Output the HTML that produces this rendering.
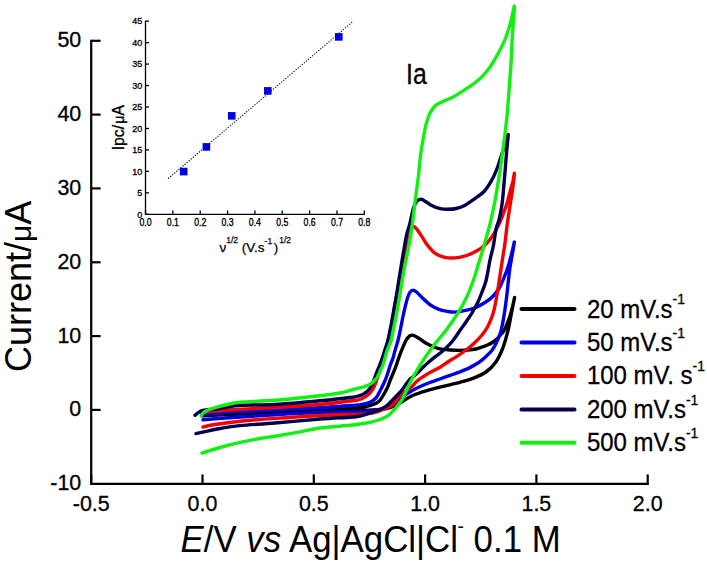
<!DOCTYPE html>
<html><head><meta charset="utf-8"><style>
html,body{margin:0;padding:0;background:#fff;width:707px;height:564px;overflow:hidden}
svg{display:block;font-family:"Liberation Sans",sans-serif}
</style></head><body>
<svg width="707" height="564" viewBox="0 0 707 564">
<g stroke="#000" stroke-width="2.2" fill="none" stroke-linecap="butt">
<path d="M91.2,39.7 V483.8 H648.8"/>
<path d="M91.2,40.8 H100.6"/>
<path d="M91.2,114.6 H100.6"/>
<path d="M91.2,188.4 H100.6"/>
<path d="M91.2,262.3 H100.6"/>
<path d="M91.2,336.1 H100.6"/>
<path d="M91.2,409.9 H100.6"/>
<path d="M91.2,483.8 V474.4"/>
<path d="M202.5,483.8 V474.4"/>
<path d="M313.8,483.8 V474.4"/>
<path d="M425.1,483.8 V474.4"/>
<path d="M536.4,483.8 V474.4"/>
<path d="M647.7,483.8 V474.4"/>
</g>
<g font-family="Liberation Sans" font-size="21" fill="#000" text-anchor="end" stroke="#000" stroke-width="0.3">
<text transform="translate(81.2,47.2) scale(1.02,1.08)">50</text>
<text transform="translate(81.2,121.0) scale(1.02,1.08)">40</text>
<text transform="translate(81.2,194.8) scale(1.02,1.08)">30</text>
<text transform="translate(81.2,268.7) scale(1.02,1.08)">20</text>
<text transform="translate(81.2,342.5) scale(1.02,1.08)">10</text>
<text transform="translate(81.2,416.3) scale(1.02,1.08)">0</text>
<text transform="translate(81.2,490.1) scale(1.02,1.08)">-10</text>
</g>
<g font-family="Liberation Sans" font-size="21" fill="#000" text-anchor="middle" stroke="#000" stroke-width="0.3">
<text transform="translate(91.2,510.6) scale(1.02,1.08)">-0.5</text>
<text transform="translate(202.5,510.6) scale(1.02,1.08)">0.0</text>
<text transform="translate(313.8,510.6) scale(1.02,1.08)">0.5</text>
<text transform="translate(425.1,510.6) scale(1.02,1.08)">1.0</text>
<text transform="translate(536.4,510.6) scale(1.02,1.08)">1.5</text>
<text transform="translate(647.7,510.6) scale(1.02,1.08)">2.0</text>
</g>
<path d="M202.0,413.5 C208.3,413.2 227.0,412.4 240.0,412.0 C253.0,411.6 266.7,411.3 280.0,411.0 C293.3,410.7 308.3,410.6 320.0,410.2 C331.7,409.8 343.3,408.8 350.0,408.4 C356.7,407.9 356.7,408.0 360.0,407.5 C363.3,407.0 367.3,406.2 370.0,405.5 C372.7,404.8 374.3,404.2 376.0,403.3 C377.7,402.4 378.7,401.9 380.0,400.3 C381.3,398.8 382.8,396.1 384.0,394.0 C385.2,391.9 386.4,389.8 387.5,387.5 C388.6,385.2 389.0,383.2 390.3,380.0 C391.6,376.8 393.7,372.1 395.2,368.2 C396.7,364.3 397.9,360.0 399.2,356.6 C400.4,353.2 401.5,350.5 402.7,347.7 C403.9,344.9 405.1,341.8 406.3,339.8 C407.5,337.8 408.8,336.6 409.8,335.8 C410.8,335.0 411.6,335.1 412.5,335.1 C413.4,335.2 413.8,335.5 415.0,336.1 C416.2,336.8 418.0,337.7 420.0,339.0 C422.0,340.3 424.0,342.2 427.0,343.8 C430.0,345.4 434.0,347.4 437.8,348.4 C441.6,349.4 445.6,349.7 450.0,350.0 C454.4,350.3 459.7,350.5 464.0,350.3 C468.3,350.1 473.0,349.6 476.0,349.0 C479.0,348.4 480.0,347.7 482.0,347.0 C484.0,346.3 486.2,345.6 488.0,344.8 C489.8,344.0 491.5,343.0 493.0,342.0 C494.5,341.0 495.8,340.1 497.0,339.0 C498.2,337.9 498.8,336.9 500.0,335.5 C501.2,334.1 502.8,332.4 504.0,330.5 C505.2,328.6 506.0,326.4 507.0,324.0 C508.0,321.6 509.1,318.8 510.0,316.0 C510.9,313.2 511.7,310.1 512.5,307.0 C513.3,303.9 514.8,296.5 514.6,297.5 C514.4,298.5 512.6,307.4 511.5,313.0 C510.4,318.6 509.4,324.9 507.9,330.8 C506.4,336.7 504.7,343.3 502.6,348.6 C500.5,353.9 498.2,358.7 495.5,362.5 C492.8,366.3 490.2,368.9 486.6,371.5 C483.1,374.1 478.6,376.1 474.2,377.9 C469.8,379.7 463.9,381.2 460.0,382.3 C456.1,383.4 454.0,383.8 450.7,384.6 C447.4,385.4 444.0,386.2 440.0,387.2 C436.0,388.2 430.5,389.6 426.8,390.7 C423.1,391.8 420.5,392.6 418.0,393.5 C415.5,394.4 414.2,394.7 412.0,395.8 C409.8,396.9 407.0,398.6 404.7,400.0 C402.4,401.4 400.4,402.8 398.0,404.0 C395.6,405.2 393.0,406.6 390.0,407.5 C387.0,408.4 384.2,409.0 380.0,409.5 C375.8,410.0 370.0,410.1 365.0,410.3 C360.0,410.5 357.5,410.4 350.0,410.5 C342.5,410.6 331.7,410.7 320.0,411.0 C308.3,411.3 293.3,412.0 280.0,412.5 C266.7,413.0 253.0,413.4 240.0,414.0 C227.0,414.6 208.3,415.5 202.0,415.8" fill="none" stroke="#000000" stroke-width="3.4" stroke-linejoin="round" stroke-linecap="round"/>
<path d="M202.0,414.5 C205.0,414.2 213.7,413.5 220.0,413.0 C226.3,412.5 230.8,412.1 240.0,411.6 C249.2,411.1 261.7,410.6 275.0,410.0 C288.3,409.4 307.5,408.4 320.0,407.7 C332.5,406.9 343.3,406.0 350.0,405.5 C356.7,405.0 356.7,405.2 360.0,404.7 C363.3,404.1 367.3,403.3 370.0,402.2 C372.7,401.1 374.3,399.9 376.0,398.0 C377.7,396.1 378.8,393.3 380.0,391.0 C381.2,388.7 382.3,386.6 383.5,384.0 C384.7,381.4 385.9,378.7 387.0,375.5 C388.1,372.3 389.3,367.9 390.3,365.0 C391.3,362.1 392.2,360.4 393.0,358.0 C393.8,355.6 394.1,353.5 395.0,350.5 C395.9,347.5 397.1,343.8 398.1,340.0 C399.1,336.2 399.9,331.8 400.8,327.5 C401.7,323.2 402.6,318.0 403.5,314.0 C404.4,310.0 405.2,306.4 406.0,303.5 C406.8,300.6 407.3,298.4 408.0,296.5 C408.7,294.6 409.2,293.4 410.0,292.3 C410.8,291.2 411.8,290.2 412.9,290.2 C414.0,290.1 415.0,290.8 416.5,292.0 C418.0,293.2 419.8,295.3 422.0,297.4 C424.2,299.5 427.1,302.6 429.9,304.6 C432.7,306.6 436.0,308.2 438.9,309.3 C441.8,310.4 444.3,310.8 447.0,311.3 C449.7,311.8 452.5,312.2 455.0,312.1 C457.5,312.1 458.9,311.6 462.0,311.0 C465.1,310.4 470.0,309.8 473.8,308.4 C477.6,307.0 481.9,304.4 485.0,302.5 C488.1,300.6 489.9,299.3 492.2,297.0 C494.5,294.7 497.1,291.6 499.0,288.5 C500.9,285.4 502.2,282.0 503.7,278.4 C505.2,274.8 506.6,271.2 508.0,267.0 C509.4,262.8 510.7,257.2 511.8,253.0 C512.9,248.8 514.3,241.7 514.4,242.0 C514.5,242.3 512.9,251.0 512.2,255.0 C511.5,259.0 510.8,262.2 510.2,266.0 C509.6,269.8 509.2,273.8 508.7,278.0 C508.2,282.2 507.8,286.5 507.3,291.0 C506.8,295.5 506.2,300.5 505.6,305.0 C505.0,309.5 504.4,313.5 503.6,318.0 C502.8,322.5 501.9,327.9 500.7,332.0 C499.5,336.1 497.9,339.5 496.5,342.5 C495.1,345.5 493.8,347.9 492.0,350.2 C490.2,352.5 487.8,354.8 486.0,356.5 C484.2,358.2 483.1,359.2 481.3,360.6 C479.5,362.0 477.1,363.6 475.0,364.8 C472.9,366.1 471.4,366.9 468.9,368.1 C466.4,369.3 463.1,370.6 460.0,371.8 C456.9,373.0 453.3,374.1 450.0,375.3 C446.7,376.5 443.3,377.8 440.0,379.0 C436.7,380.2 432.8,381.5 430.0,382.5 C427.2,383.5 425.3,384.2 423.0,385.2 C420.7,386.2 418.1,387.4 416.0,388.5 C413.9,389.6 412.0,390.7 410.2,391.8 C408.4,392.9 406.5,394.0 405.0,395.0 C403.5,396.0 402.7,396.8 401.0,398.0 C399.3,399.2 397.0,401.2 395.0,402.5 C393.0,403.8 391.2,404.9 389.0,406.0 C386.8,407.1 385.2,408.2 382.0,409.0 C378.8,409.8 373.7,410.5 370.0,411.0 C366.3,411.5 363.3,411.9 360.0,412.0 C356.7,412.1 356.7,411.7 350.0,411.8 C343.3,411.9 332.5,411.9 320.0,412.4 C307.5,412.9 288.3,414.0 275.0,414.8 C261.7,415.6 250.0,416.3 240.0,417.0 C230.0,417.7 221.2,418.3 215.0,418.8 C208.8,419.3 205.0,419.6 203.0,419.8" fill="none" stroke="#0000e0" stroke-width="3.4" stroke-linejoin="round" stroke-linecap="round"/>
<path d="M202.5,413.0 C203.8,412.8 207.1,412.0 210.0,411.6 C212.9,411.2 215.0,411.2 220.0,410.8 C225.0,410.4 230.8,409.9 240.0,409.3 C249.2,408.8 261.7,408.3 275.0,407.5 C288.3,406.7 307.5,405.6 320.0,404.5 C332.5,403.4 343.3,401.8 350.0,401.0 C356.7,400.2 357.0,400.5 360.0,399.5 C363.0,398.5 365.8,396.8 368.0,395.0 C370.2,393.2 371.7,391.2 373.0,389.0 C374.3,386.8 375.0,384.7 376.0,382.0 C377.0,379.3 377.8,376.7 379.0,373.0 C380.2,369.3 381.7,364.7 383.0,360.0 C384.3,355.3 385.7,350.3 387.0,345.0 C388.3,339.7 389.7,334.7 391.0,328.0 C392.3,321.3 393.7,312.5 395.0,305.0 C396.3,297.5 397.7,290.2 399.0,283.0 C400.3,275.8 401.7,268.5 403.0,262.0 C404.3,255.5 405.8,249.0 407.0,244.0 C408.2,239.0 409.4,234.9 410.5,232.0 C411.6,229.1 412.4,227.0 413.4,226.5 C414.4,226.0 415.2,227.3 416.5,228.8 C417.8,230.3 419.6,233.0 421.3,235.6 C423.1,238.2 424.7,241.7 427.0,244.6 C429.3,247.5 432.1,251.0 434.9,253.1 C437.7,255.2 440.5,256.3 443.9,257.1 C447.3,257.9 451.4,258.2 455.2,257.9 C459.0,257.6 462.8,256.8 466.6,255.5 C470.4,254.2 474.8,252.1 477.9,250.3 C481.0,248.6 483.0,246.8 485.0,245.0 C487.0,243.2 488.4,241.7 490.0,239.5 C491.6,237.3 493.2,234.9 494.9,232.0 C496.6,229.1 498.5,225.3 500.0,222.0 C501.5,218.7 502.8,215.3 504.0,212.0 C505.2,208.7 506.2,206.0 507.3,202.3 C508.4,198.6 509.6,193.6 510.5,190.0 C511.4,186.4 512.4,183.8 513.0,181.0 C513.6,178.2 514.5,172.0 514.4,173.5 C514.3,175.0 513.3,184.4 512.5,190.0 C511.7,195.6 510.7,201.2 509.8,207.2 C508.9,213.2 507.8,219.8 507.0,226.0 C506.2,232.2 505.6,238.9 504.8,244.4 C504.1,249.9 503.3,254.0 502.5,259.0 C501.7,264.0 501.0,269.0 500.2,274.2 C499.4,279.4 498.6,285.2 497.8,290.0 C497.0,294.8 496.3,298.9 495.5,303.0 C494.7,307.1 494.1,310.5 492.8,314.5 C491.5,318.5 489.3,323.6 487.5,327.0 C485.7,330.4 483.9,332.6 482.0,335.0 C480.1,337.4 478.3,339.2 476.0,341.5 C473.7,343.8 471.2,346.0 468.0,348.5 C464.8,351.0 460.2,354.2 457.0,356.3 C453.8,358.4 451.8,359.4 449.0,361.2 C446.2,363.0 442.8,365.6 440.0,367.3 C437.2,369.0 434.5,370.1 432.0,371.5 C429.5,372.9 427.5,373.9 425.0,375.5 C422.5,377.1 419.1,379.2 417.0,381.0 C414.9,382.8 413.9,384.8 412.3,386.3 C410.7,387.8 409.1,388.7 407.5,389.8 C405.9,390.9 404.2,391.6 402.8,392.8 C401.4,394.1 400.1,395.8 398.8,397.3 C397.5,398.8 396.1,400.6 395.0,402.0 C393.9,403.4 393.6,404.4 391.9,405.5 C390.2,406.6 387.8,407.4 385.0,408.5 C382.2,409.6 379.2,411.3 375.0,412.3 C370.8,413.3 364.2,414.0 360.0,414.3 C355.8,414.6 356.7,414.2 350.0,414.4 C343.3,414.6 332.5,414.8 320.0,415.5 C307.5,416.2 288.3,417.4 275.0,418.4 C261.7,419.3 250.0,420.2 240.0,421.2 C230.0,422.2 221.2,423.5 215.0,424.5 C208.8,425.5 205.0,426.6 203.0,427.0" fill="none" stroke="#f40000" stroke-width="3.4" stroke-linejoin="round" stroke-linecap="round"/>
<path d="M195.0,415.3 C195.5,414.9 196.8,413.6 198.0,412.8 C199.2,412.0 200.5,411.1 202.0,410.6 C203.5,410.1 204.8,409.9 207.0,409.7 C209.2,409.4 212.0,409.5 215.0,409.1 C218.0,408.7 220.8,408.1 225.0,407.5 C229.2,406.9 231.7,405.7 240.0,405.2 C248.3,404.7 261.7,405.2 275.0,404.5 C288.3,403.8 307.5,402.0 320.0,400.8 C332.5,399.6 343.3,398.4 350.0,397.5 C356.7,396.6 357.5,396.2 360.0,395.5 C362.5,394.8 363.6,393.9 365.0,393.0 C366.4,392.1 367.6,391.2 368.6,390.0 C369.7,388.8 370.5,387.4 371.3,386.0 C372.1,384.6 372.8,383.0 373.4,381.5 C374.0,380.0 374.3,378.9 375.0,377.0 C375.7,375.1 376.9,372.0 377.7,370.0 C378.5,368.0 379.0,367.0 379.8,365.0 C380.6,363.0 381.4,360.6 382.3,358.0 C383.2,355.4 384.1,352.5 385.0,349.5 C385.9,346.5 387.0,344.1 388.0,340.0 C389.0,335.9 390.1,330.0 391.1,325.0 C392.1,320.0 392.8,315.5 393.8,310.0 C394.8,304.5 395.9,298.7 397.0,292.0 C398.1,285.3 399.3,277.3 400.5,270.0 C401.7,262.7 403.1,254.0 404.2,248.0 C405.2,242.0 405.9,238.0 406.8,234.0 C407.7,230.0 408.7,228.2 409.8,223.9 C410.9,219.6 412.2,212.1 413.4,208.3 C414.6,204.5 415.6,202.7 416.9,201.2 C418.2,199.7 419.7,199.1 421.2,199.2 C422.7,199.3 424.4,200.9 426.0,201.8 C427.6,202.8 428.5,203.8 430.7,204.9 C432.9,206.0 436.4,207.7 439.2,208.4 C442.0,209.1 444.9,209.3 447.7,209.3 C450.5,209.3 453.4,209.2 456.2,208.5 C459.0,207.8 461.9,206.8 464.7,205.4 C467.5,204.0 470.0,202.1 473.2,199.8 C476.4,197.5 481.0,194.6 484.0,191.5 C487.0,188.4 489.2,184.6 491.3,181.0 C493.4,177.4 495.0,173.8 496.5,170.0 C498.0,166.2 499.2,162.1 500.5,158.3 C501.8,154.6 503.0,150.6 504.0,147.5 C505.0,144.4 505.7,142.1 506.4,140.0 C507.1,137.9 508.2,132.8 508.2,134.8 C508.2,136.8 507.1,145.8 506.6,152.0 C506.1,158.2 505.6,165.3 505.0,172.0 C504.4,178.7 503.8,186.5 503.3,192.0 C502.8,197.5 502.6,200.3 501.9,205.0 C501.2,209.7 499.9,216.1 499.0,220.0 C498.1,223.9 497.1,224.2 496.2,228.4 C495.3,232.6 494.5,239.7 493.5,245.0 C492.5,250.3 491.2,254.2 490.0,260.0 C488.8,265.8 487.5,274.7 486.2,280.0 C484.9,285.3 483.4,288.2 482.0,292.0 C480.6,295.8 479.2,299.5 477.5,303.0 C475.8,306.5 473.9,309.8 472.0,313.0 C470.1,316.2 467.8,319.3 466.0,322.0 C464.2,324.7 463.2,325.9 461.0,329.0 C458.8,332.1 455.5,337.3 453.0,340.5 C450.5,343.7 448.2,345.9 446.0,348.0 C443.8,350.1 441.8,351.7 440.0,353.2 C438.2,354.7 436.9,355.3 435.0,356.8 C433.1,358.3 430.8,360.2 428.8,362.0 C426.8,363.8 424.6,365.8 423.0,367.3 C421.4,368.8 420.7,369.8 419.5,371.0 C418.3,372.2 417.1,373.3 416.0,374.3 C414.9,375.3 414.2,375.8 413.0,376.8 C411.8,377.8 410.1,379.1 408.8,380.5 C407.6,381.9 406.6,383.5 405.5,385.0 C404.4,386.5 403.4,388.1 402.3,389.5 C401.2,390.9 400.0,392.2 398.8,393.5 C397.6,394.8 396.5,396.0 395.0,397.5 C393.5,399.0 391.4,401.1 390.0,402.5 C388.6,403.9 388.6,404.5 386.9,405.7 C385.2,406.9 382.8,408.3 380.0,409.5 C377.2,410.7 373.3,411.9 370.0,413.0 C366.7,414.1 363.3,415.3 360.0,416.0 C356.7,416.7 356.7,416.7 350.0,417.2 C343.3,417.7 332.5,418.0 320.0,419.0 C307.5,420.0 288.3,421.9 275.0,423.0 C261.7,424.1 249.2,424.7 240.0,425.6 C230.8,426.5 227.3,427.2 220.0,428.5 C212.7,429.8 200.0,432.8 196.0,433.6" fill="none" stroke="#00004e" stroke-width="3.4" stroke-linejoin="round" stroke-linecap="round"/>
<path d="M201.3,415.6 C201.7,415.1 202.4,413.4 203.5,412.5 C204.6,411.6 206.1,410.8 208.0,410.0 C209.9,409.2 212.2,408.4 215.0,407.6 C217.8,406.8 220.8,405.9 225.0,405.0 C229.2,404.1 231.7,403.0 240.0,402.2 C248.3,401.4 261.7,401.4 275.0,400.3 C288.3,399.2 309.2,396.9 320.0,395.7 C330.8,394.5 334.2,394.1 340.0,393.0 C345.8,391.9 351.3,389.9 355.0,389.0 C358.7,388.1 360.0,387.9 362.0,387.3 C364.0,386.7 365.4,386.2 367.0,385.6 C368.6,385.0 370.2,384.3 371.5,383.4 C372.8,382.5 373.8,381.1 374.8,380.0 C375.8,378.9 376.4,378.7 377.4,377.0 C378.4,375.3 379.7,372.0 380.6,370.0 C381.5,368.0 382.2,367.0 382.9,365.0 C383.6,363.0 384.3,360.3 385.0,358.0 C385.7,355.7 386.3,353.1 387.0,351.0 C387.7,348.9 388.5,347.3 389.2,345.5 C389.9,343.7 390.3,343.4 391.2,340.0 C392.1,336.6 393.3,330.0 394.3,325.0 C395.3,320.0 396.3,315.7 397.3,310.0 C398.3,304.3 399.4,297.8 400.5,291.0 C401.6,284.2 402.9,276.2 404.2,269.0 C405.5,261.8 407.2,255.1 408.5,248.0 C409.8,240.9 410.8,235.0 412.0,226.7 C413.2,218.4 414.4,206.7 415.5,198.4 C416.6,190.1 417.4,184.3 418.3,177.0 C419.2,169.7 419.8,161.3 420.6,154.7 C421.5,148.1 422.4,142.8 423.4,137.6 C424.3,132.4 425.2,127.4 426.3,123.4 C427.4,119.4 428.4,116.3 429.8,113.5 C431.2,110.7 432.9,108.2 434.8,106.3 C436.7,104.4 439.0,103.5 441.2,102.3 C443.4,101.1 446.0,100.2 448.1,99.3 C450.2,98.3 452.0,97.7 454.0,96.6 C456.0,95.5 457.4,94.4 460.2,92.6 C463.0,90.8 467.2,88.4 470.7,85.9 C474.2,83.4 478.0,80.6 481.3,77.4 C484.6,74.2 487.6,70.5 490.3,66.6 C493.1,62.7 495.5,58.2 497.8,54.1 C500.1,50.0 502.1,46.1 503.9,42.1 C505.7,38.1 507.1,33.9 508.4,30.0 C509.7,26.1 510.6,22.5 511.6,18.5 C512.6,14.5 514.1,5.5 514.4,6.0 C514.7,6.5 513.8,15.2 513.4,21.3 C513.0,27.4 512.4,35.5 512.0,42.6 C511.6,49.7 511.4,57.6 511.0,63.8 C510.6,70.0 510.4,72.6 509.8,80.0 C509.2,87.4 508.4,100.1 507.7,108.4 C507.0,116.7 506.3,122.5 505.5,129.6 C504.7,136.7 503.6,144.2 502.7,150.9 C501.8,157.6 501.1,164.2 500.2,170.0 C499.3,175.8 498.3,181.0 497.5,186.0 C496.7,191.0 496.4,193.7 495.2,200.0 C493.9,206.3 491.9,216.4 490.0,224.0 C488.1,231.6 485.9,239.1 484.1,245.4 C482.3,251.7 480.8,256.2 479.0,262.0 C477.2,267.8 475.6,274.0 473.5,280.0 C471.4,286.0 468.9,292.5 466.3,298.0 C463.7,303.5 461.3,307.7 458.0,313.0 C454.7,318.3 449.3,325.8 446.3,330.0 C443.3,334.2 442.0,335.3 439.8,338.0 C437.6,340.7 435.4,343.3 433.4,346.0 C431.3,348.7 429.4,351.3 427.5,354.0 C425.6,356.7 423.8,359.3 422.1,362.0 C420.4,364.7 418.7,367.3 417.1,370.0 C415.5,372.7 414.0,375.3 412.6,378.0 C411.2,380.7 409.8,383.3 408.5,386.0 C407.2,388.7 405.9,391.7 404.8,394.0 C403.7,396.3 402.9,398.2 401.8,400.0 C400.8,401.8 399.8,402.8 398.5,404.5 C397.2,406.2 395.8,408.1 394.0,410.0 C392.2,411.9 390.2,414.3 387.9,415.9 C385.6,417.5 382.6,418.5 380.0,419.5 C377.4,420.5 375.3,421.1 372.0,421.8 C368.7,422.6 363.7,423.4 360.0,424.0 C356.3,424.6 356.7,424.6 350.0,425.3 C343.3,426.0 328.3,426.9 320.0,428.0 C311.7,429.1 307.5,430.4 300.0,431.8 C292.5,433.2 281.7,435.1 275.0,436.2 C268.3,437.3 265.8,437.5 260.0,438.5 C254.2,439.5 246.7,440.9 240.0,442.4 C233.3,443.9 226.3,445.7 220.0,447.5 C213.7,449.3 205.0,452.1 202.0,453.0" fill="none" stroke="#12f012" stroke-width="3.4" stroke-linejoin="round" stroke-linecap="round"/>
<text transform="translate(406.0,83.5) scale(0.9,1.065)" font-family="Liberation Sans" font-size="27.5" fill="#000" stroke="#000" stroke-width="0.3">Ia</text>
<path d="M521.5,309.0 H574.5" stroke="#000000" stroke-width="4" stroke-linecap="round"/>
<text transform="translate(586.9,317.5) scale(1.09,1.17)" font-family="Liberation Sans" font-size="22" fill="#000" stroke="#000" stroke-width="0.25">20 mV.s<tspan font-size="12.8" dy="-11.4">-1</tspan></text>
<path d="M521.5,342.4 H574.5" stroke="#0000e0" stroke-width="4" stroke-linecap="round"/>
<text transform="translate(586.9,350.9) scale(1.09,1.17)" font-family="Liberation Sans" font-size="22" fill="#000" stroke="#000" stroke-width="0.25">50 mV.s<tspan font-size="12.8" dy="-11.4">-1</tspan></text>
<path d="M521.5,375.9 H574.5" stroke="#f40000" stroke-width="4" stroke-linecap="round"/>
<text transform="translate(586.9,384.4) scale(1.09,1.17)" font-family="Liberation Sans" font-size="22" fill="#000" stroke="#000" stroke-width="0.25">100 mV. s<tspan font-size="12.8" dy="-11.4">-1</tspan></text>
<path d="M521.5,409.4 H574.5" stroke="#00004e" stroke-width="4" stroke-linecap="round"/>
<text transform="translate(586.9,417.9) scale(1.09,1.17)" font-family="Liberation Sans" font-size="22" fill="#000" stroke="#000" stroke-width="0.25">200 mV.s<tspan font-size="12.8" dy="-11.4">-1</tspan></text>
<path d="M521.5,442.8 H574.5" stroke="#12f012" stroke-width="4" stroke-linecap="round"/>
<text transform="translate(586.9,451.3) scale(1.09,1.17)" font-family="Liberation Sans" font-size="22" fill="#000" stroke="#000" stroke-width="0.25">500 mV.s<tspan font-size="12.8" dy="-11.4">-1</tspan></text>
<text transform="translate(180.5,551.9) scale(0.968,1)" font-family="Liberation Sans" font-size="36" fill="#000"><tspan font-style="italic">E</tspan>/V <tspan font-style="italic">vs</tspan> Ag|AgCl|Cl<tspan font-size="20" dy="-19" dx="-0.5">-</tspan><tspan dy="19"> 0.1 M</tspan></text>
<text transform="translate(31,372) rotate(-90)" x="0" y="0" font-family="Liberation Sans" font-size="36" fill="#000">Current/<tspan font-size="30">&#956;</tspan>A</text>
<g stroke="#000" stroke-width="1.3" fill="none">
<path d="M145.50,20.76 V214.30 H364.80"/>
<path d="M145.50,214.30 H149.00"/>
<path d="M145.50,192.84 H149.00"/>
<path d="M145.50,171.38 H149.00"/>
<path d="M145.50,149.92 H149.00"/>
<path d="M145.50,128.46 H149.00"/>
<path d="M145.50,107.00 H149.00"/>
<path d="M145.50,85.54 H149.00"/>
<path d="M145.50,64.08 H149.00"/>
<path d="M145.50,42.62 H149.00"/>
<path d="M145.50,21.16 H149.00"/>
<path d="M145.50,214.30 V210.50"/>
<path d="M172.85,214.30 V210.50"/>
<path d="M200.20,214.30 V210.50"/>
<path d="M227.55,214.30 V210.50"/>
<path d="M254.90,214.30 V210.50"/>
<path d="M282.25,214.30 V210.50"/>
<path d="M309.60,214.30 V210.50"/>
<path d="M336.95,214.30 V210.50"/>
<path d="M364.30,214.30 V210.50"/>
</g>
<g font-family="Liberation Sans" font-size="9" fill="#000" text-anchor="end" stroke="#000" stroke-width="0.3">
<text transform="translate(142.2,217.50) scale(1,1.1)">0</text>
<text transform="translate(142.2,196.04) scale(1,1.1)">5</text>
<text transform="translate(142.2,174.58) scale(1,1.1)">10</text>
<text transform="translate(142.2,153.12) scale(1,1.1)">15</text>
<text transform="translate(142.2,131.66) scale(1,1.1)">20</text>
<text transform="translate(142.2,110.20) scale(1,1.1)">25</text>
<text transform="translate(142.2,88.74) scale(1,1.1)">30</text>
<text transform="translate(142.2,67.28) scale(1,1.1)">35</text>
<text transform="translate(142.2,45.82) scale(1,1.1)">40</text>
<text transform="translate(142.2,24.36) scale(1,1.1)">45</text>
</g>
<g font-family="Liberation Sans" font-size="9" fill="#000" text-anchor="middle" stroke="#000" stroke-width="0.3">
<text transform="translate(145.50,226.3) scale(0.97,1.15)">0.0</text>
<text transform="translate(172.85,226.3) scale(0.97,1.15)">0.1</text>
<text transform="translate(200.20,226.3) scale(0.97,1.15)">0.2</text>
<text transform="translate(227.55,226.3) scale(0.97,1.15)">0.3</text>
<text transform="translate(254.90,226.3) scale(0.97,1.15)">0.4</text>
<text transform="translate(282.25,226.3) scale(0.97,1.15)">0.5</text>
<text transform="translate(309.60,226.3) scale(0.97,1.15)">0.6</text>
<text transform="translate(336.95,226.3) scale(0.97,1.15)">0.7</text>
<text transform="translate(364.30,226.3) scale(0.97,1.15)">0.8</text>
</g>
<rect x="179.90" y="167.80" width="7.6" height="7.6" fill="#0000e6"/>
<rect x="202.60" y="143.10" width="7.6" height="7.6" fill="#0000e6"/>
<rect x="227.95" y="112.05" width="7.6" height="7.6" fill="#0000e6"/>
<rect x="264.00" y="87.10" width="7.6" height="7.6" fill="#0000e6"/>
<rect x="335.00" y="33.10" width="7.6" height="7.6" fill="#0000e6"/>
<path d="M168.1,178.6 L353,21.4" stroke="#000" stroke-width="1.05" stroke-dasharray="1.3,1.4"/>
<text transform="translate(124.0,150.3) rotate(-90)" font-family="Liberation Sans" font-size="15.8" fill="#000" stroke="#000" stroke-width="0.35">Ipc/<tspan font-size="14.2" dx="1.2">&#956;</tspan>A</text>
<text x="219.5" y="251.8" font-family="Liberation Sans" font-size="13.5" fill="#000" stroke="#000" stroke-width="0.25">&#957;<tspan font-size="8.5" dy="-9">1/2</tspan><tspan dy="9"> (V.s</tspan><tspan font-size="8.5" dy="-7.5">-1</tspan><tspan dy="7.5" dx="1.5">)</tspan><tspan font-size="8.5" dy="-9" dx="1">1/2</tspan></text>
</svg>
</body></html>
